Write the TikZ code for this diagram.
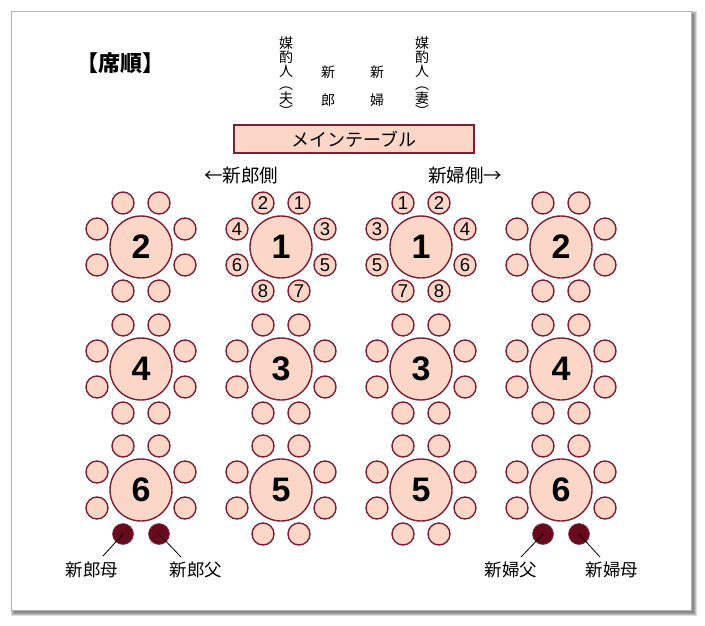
\documentclass[tikz,border=0pt]{standalone}
\usepackage{fontspec}
\setmainfont{Liberation Sans}
\newfontfamily\cjk{Noto Sans CJK JP}
\definecolor{seatfill}{RGB}{252,214,198}
\definecolor{seatline}{RGB}{122,32,52}
\definecolor{parentc}{RGB}{104,10,30}
\tikzset{
  tbl/.style={circle, draw=seatline, fill=seatfill, line width=1.4pt, minimum size=62pt, inner sep=0pt,
    font=\fontsize{34}{34}\selectfont\bfseries},
  seat/.style={circle, draw=seatline, fill=seatfill, line width=1.4pt, minimum size=22pt, inner sep=0pt,
    font=\fontsize{18.5}{18.5}\selectfont},
  parentseat/.style={circle, fill=parentc, draw=parentc!80, line width=0.6pt, minimum size=21pt, inner sep=0pt},
  lbl/.style={inner sep=0pt, font=\cjk\fontsize{17.5}{17.5}\selectfont},
  side/.style={inner sep=0pt, font=\cjk\fontsize{18.5}{18.5}\selectfont},
  vert/.style={inner sep=0pt, align=center, font=\cjk\fontsize{14}{13.6}\selectfont},
  pline/.style={black, line width=0.8pt},
}
\newcommand\fullring{-18/-44/a,18/-44/b,-44/-18/c,44/-18/d,-44/18/e,44/18/f,-18/44/g,18/44/h}
\newcommand\sixring{-18/-44/a,18/-44/b,-44/-18/c,44/-18/d,-44/18/e,44/18/f}
\newcommand\seatring[4]{% name, x, y, list macro
  \foreach \dx/\dy/\k in #4
    \node[seat] (#1\k) at (#2+\dx,#3+\dy) {};
}
\begin{document}
\begin{tikzpicture}[x=1pt,y=-1pt]
\useasboundingbox (0,0) rectangle (705,625);
% frame with shadow
\foreach \k in {0,1,2,3}
  \fill[black, opacity=0.14] (14-\k,14-\k) rectangle (694+\k,613+\k);
\fill[white, draw=black!30, line width=0.8pt] (11,11) rectangle (691,610);

% title
\node[inner sep=0pt, font=\cjk\fontsize{22}{22}\selectfont\bfseries] (title) at (120,63) {【席順】};

% vertical labels
\node[vert] (nakoudoH) at (286,77) {媒\\酌\\人\\︵\\夫\\︶};
\node[vert, font=\cjk\fontsize{14}{28}\selectfont] (groom) at (328,86) {新\\郎};
\node[vert, font=\cjk\fontsize{14}{28}\selectfont] (bride) at (377,86) {新\\婦};
\node[vert] (nakoudoW) at (422,77) {媒\\酌\\人\\︵\\妻\\︶};

% main table
\node[draw=seatline, fill=seatfill, line width=1.4pt, minimum width=240pt, minimum height=28pt, inner sep=0pt,
  font=\cjk\fontsize{18}{18}\selectfont] (main) at (354,139) {メインテーブル};

% side labels
\node[side] (gside) at (241,176) {←新郎側};
\node[side] (bside) at (465,176) {新婦側→};

% row 1
\seatring{L2}{141}{247}{\fullring}
\node[tbl] (tL2) at (141,247) {2};
\seatring{R2}{561}{247}{\fullring}
\node[tbl] (tR2) at (561,247) {2};
% numbered table 1 (groom side)
\foreach \dx/\dy/\n in {-18/-44/2,18/-44/1,-44/-18/4,44/-18/3,-44/18/6,44/18/5,-18/44/8,18/44/7}
  \node[seat] (L1s\n) at (281+\dx,247+\dy) {\n};
\node[tbl] (tL1) at (281,247) {1};
% numbered table 1 (bride side)
\foreach \dx/\dy/\n in {-18/-44/1,18/-44/2,-44/-18/3,44/-18/4,-44/18/5,44/18/6,-18/44/7,18/44/8}
  \node[seat] (R1s\n) at (421+\dx,247+\dy) {\n};
\node[tbl] (tR1) at (421,247) {1};

% row 2
\seatring{L4}{141}{369}{\fullring}
\node[tbl] (tL4) at (141,369) {4};
\seatring{L3}{281}{369}{\fullring}
\node[tbl] (tL3) at (281,369) {3};
\seatring{R3}{421}{369}{\fullring}
\node[tbl] (tR3) at (421,369) {3};
\seatring{R4}{561}{369}{\fullring}
\node[tbl] (tR4) at (561,369) {4};

% row 3
\seatring{L6}{141}{490}{\sixring}
\node[tbl] (tL6) at (141,490) {6};
\seatring{L5}{281}{490}{\fullring}
\node[tbl] (tL5) at (281,490) {5};
\seatring{R5}{421}{490}{\fullring}
\node[tbl] (tR5) at (421,490) {5};
\seatring{R6}{561}{490}{\sixring}
\node[tbl] (tR6) at (561,490) {6};

% parents
\node[parentseat] (pgm) at (123,534) {};
\node[parentseat] (pgf) at (159,534) {};
\node[parentseat] (pbf) at (543,534) {};
\node[parentseat] (pbm) at (579,534) {};

\node[lbl] (lgm) at (92,570) {新郎母};
\node[lbl] (lgf) at (196,570) {新郎父};
\node[lbl] (lbf) at (511,570) {新婦父};
\node[lbl] (lbm) at (612,570) {新婦母};

\coordinate (egm) at (103,556);
\coordinate (egf) at (181,557);
\coordinate (ebf) at (521,557);
\coordinate (ebm) at (600,557);
\draw[pline] (pgm.center) -- (egm);
\draw[pline] (pgf.center) -- (egf);
\draw[pline] (pbf.center) -- (ebf);
\draw[pline] (pbm.center) -- (ebm);
\end{tikzpicture}
\end{document}
